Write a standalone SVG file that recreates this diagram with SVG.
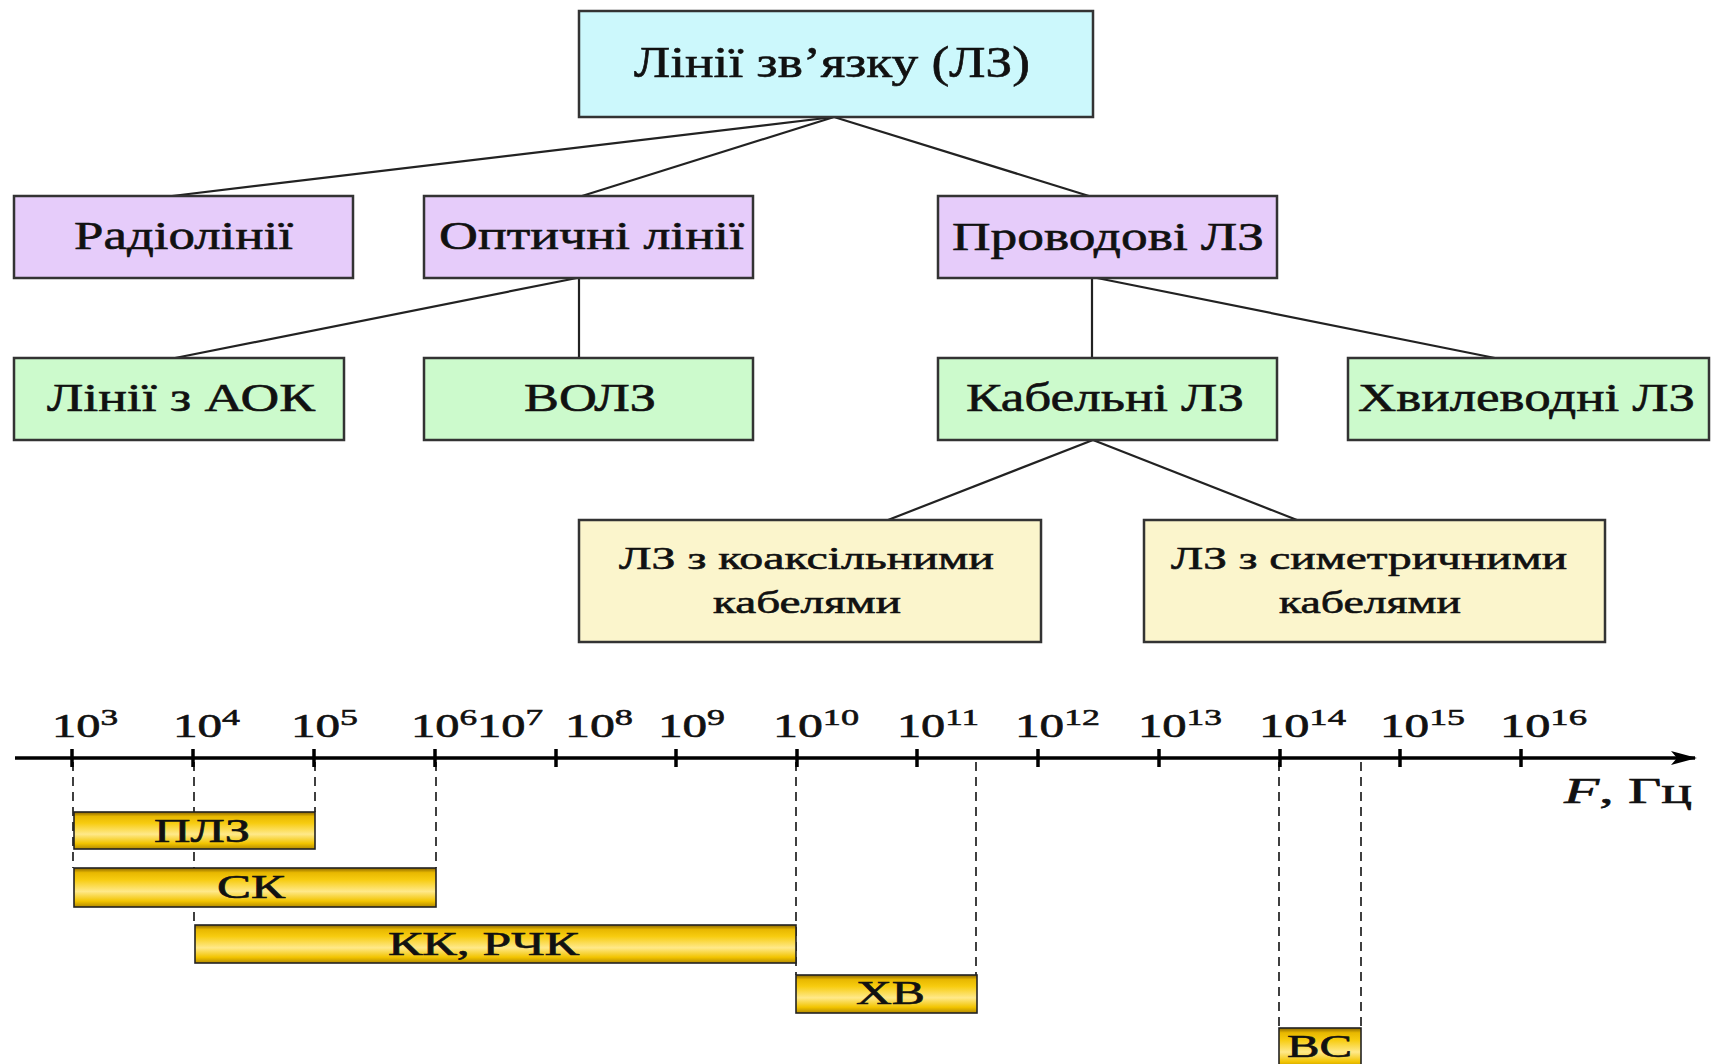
<svg xmlns="http://www.w3.org/2000/svg" width="1716" height="1064" viewBox="0 0 1716 1064">
<style>
.box{stroke:#333;stroke-width:2.5}
.t{font-family:"Liberation Serif","Times New Roman",serif;fill:#111;stroke:#111;stroke-width:0.6}
.n1{font-size:45px}
.n2{font-size:41px}
.n4{font-size:32px}
.ax{font-size:33px}
.sup{font-size:24px}
.conn{stroke:#222;stroke-width:2.2;fill:none}
.dash{stroke:#111;stroke-width:1.6;stroke-dasharray:9 6;fill:none}
.axis{stroke:#000;stroke-width:3.5;fill:none}
.tick{stroke:#000;stroke-width:3.5}
.bar{fill:url(#gold);stroke:#222;stroke-width:1.6}
</style>
<defs>
<linearGradient id="gold" x1="0" y1="0" x2="0" y2="1">
<stop offset="0" stop-color="#8a6500"/>
<stop offset="0.12" stop-color="#e8b800"/>
<stop offset="0.3" stop-color="#f7cc10"/>
<stop offset="0.6" stop-color="#ffe98a"/>
<stop offset="0.85" stop-color="#f2c400"/>
<stop offset="1" stop-color="#b38a00"/>
</linearGradient>
<marker id="arr" markerWidth="26" markerHeight="14" refX="24" refY="7" orient="auto" markerUnits="userSpaceOnUse">
<path d="M0,0 L26,7 L0,14 L6,7 Z" fill="#000"/>
</marker>
</defs>

<g id="connectors">
<line class="conn" x1="834" y1="117" x2="172" y2="196"/>
<line class="conn" x1="834" y1="117" x2="582" y2="196"/>
<line class="conn" x1="834" y1="117" x2="1089" y2="196"/>
<line class="conn" x1="577" y1="278" x2="175" y2="358"/>
<line class="conn" x1="579" y1="278" x2="579" y2="358"/>
<line class="conn" x1="1092" y1="278" x2="1092" y2="358"/>
<line class="conn" x1="1097" y1="278" x2="1495" y2="358"/>
<line class="conn" x1="1093" y1="440" x2="888" y2="520"/>
<line class="conn" x1="1093" y1="440" x2="1297" y2="520"/>
</g>

<g id="n-root">
<rect class="box" x="579" y="11" width="514" height="106" fill="#ccf8fc"/>
<text class="t n1" x="634" y="77" textLength="396" lengthAdjust="spacingAndGlyphs">Лінії зв’язку (ЛЗ)</text>
</g>

<g id="n-radio">
<rect class="box" x="14" y="196" width="339" height="82" fill="#e6ccfa"/>
<text class="t n2" x="74" y="249" textLength="219" lengthAdjust="spacingAndGlyphs">Радіолінії</text>
</g>
<g id="n-optic">
<rect class="box" x="424" y="196" width="329" height="82" fill="#e6ccfa"/>
<text class="t n2" x="439" y="249" textLength="305" lengthAdjust="spacingAndGlyphs">Оптичні лінії</text>
</g>
<g id="n-wire">
<rect class="box" x="938" y="196" width="339" height="82" fill="#e6ccfa"/>
<text class="t n2" x="952" y="250" textLength="312" lengthAdjust="spacingAndGlyphs">Проводові ЛЗ</text>
</g>

<g id="n-aok">
<rect class="box" x="14" y="358" width="330" height="82" fill="#ccfacc"/>
<text class="t n2" x="47" y="411" textLength="268" lengthAdjust="spacingAndGlyphs">Лінії з АОК</text>
</g>
<g id="n-volz">
<rect class="box" x="424" y="358" width="329" height="82" fill="#ccfacc"/>
<text class="t n2" x="524" y="411" textLength="132" lengthAdjust="spacingAndGlyphs">ВОЛЗ</text>
</g>
<g id="n-cable">
<rect class="box" x="938" y="358" width="339" height="82" fill="#ccfacc"/>
<text class="t n2" x="966" y="411" textLength="278" lengthAdjust="spacingAndGlyphs">Кабельні ЛЗ</text>
</g>
<g id="n-wave">
<rect class="box" x="1348" y="358" width="361" height="82" fill="#ccfacc"/>
<text class="t n2" x="1358" y="411" textLength="337" lengthAdjust="spacingAndGlyphs">Хвилеводні ЛЗ</text>
</g>

<g id="n-coax">
<rect class="box" x="579" y="520" width="462" height="122" fill="#fbf5cc"/>
<text class="t n4" x="619" y="569" textLength="375" lengthAdjust="spacingAndGlyphs">ЛЗ з коаксільними</text>
<text class="t n4" x="713" y="613" textLength="188" lengthAdjust="spacingAndGlyphs">кабелями</text>
</g>
<g id="n-sym">
<rect class="box" x="1144" y="520" width="461" height="122" fill="#fbf5cc"/>
<text class="t n4" x="1171" y="569" textLength="396" lengthAdjust="spacingAndGlyphs">ЛЗ з симетричними</text>
<text class="t n4" x="1279" y="613" textLength="182" lengthAdjust="spacingAndGlyphs">кабелями</text>
</g>

<g id="dashes">
<line class="dash" x1="73" y1="762" x2="73" y2="868"/>
<line class="dash" x1="194" y1="762" x2="194" y2="925"/>
<line class="dash" x1="315" y1="762" x2="315" y2="812"/>
<line class="dash" x1="436" y1="762" x2="436" y2="868"/>
<line class="dash" x1="796" y1="762" x2="796" y2="975"/>
<line class="dash" x1="976" y1="762" x2="976" y2="975"/>
<line class="dash" x1="1279" y1="762" x2="1279" y2="1028"/>
<line class="dash" x1="1361" y1="762" x2="1361" y2="1028"/>
</g>

<g id="axis">
<line class="axis" x1="15" y1="758" x2="1695" y2="758" marker-end="url(#arr)"/>
<g class="tick">
<line x1="72" y1="749" x2="72" y2="767"/>
<line x1="193" y1="749" x2="193" y2="767"/>
<line x1="314" y1="749" x2="314" y2="767"/>
<line x1="435" y1="749" x2="435" y2="767"/>
<line x1="556" y1="749" x2="556" y2="767"/>
<line x1="676" y1="749" x2="676" y2="767"/>
<line x1="797" y1="749" x2="797" y2="767"/>
<line x1="917" y1="749" x2="917" y2="767"/>
<line x1="1038" y1="749" x2="1038" y2="767"/>
<line x1="1159" y1="749" x2="1159" y2="767"/>
<line x1="1280" y1="749" x2="1280" y2="767"/>
<line x1="1400" y1="749" x2="1400" y2="767"/>
<line x1="1521" y1="749" x2="1521" y2="767"/>
</g>
<g class="t ax">
<text x="52" y="737" textLength="66" lengthAdjust="spacingAndGlyphs">10<tspan class="sup" dy="-12">3</tspan></text>
<text x="173" y="737" textLength="67" lengthAdjust="spacingAndGlyphs">10<tspan class="sup" dy="-12">4</tspan></text>
<text x="291" y="737" textLength="67" lengthAdjust="spacingAndGlyphs">10<tspan class="sup" dy="-12">5</tspan></text>
<text x="411" y="737" textLength="66" lengthAdjust="spacingAndGlyphs">10<tspan class="sup" dy="-12">6</tspan></text>
<text x="477" y="737" textLength="66" lengthAdjust="spacingAndGlyphs">10<tspan class="sup" dy="-12">7</tspan></text>
<text x="565" y="737" textLength="68" lengthAdjust="spacingAndGlyphs">10<tspan class="sup" dy="-12">8</tspan></text>
<text x="658" y="737" textLength="67" lengthAdjust="spacingAndGlyphs">10<tspan class="sup" dy="-12">9</tspan></text>
<text x="773" y="737" textLength="86" lengthAdjust="spacingAndGlyphs">10<tspan class="sup" dy="-12">10</tspan></text>
<text x="897" y="737" textLength="82" lengthAdjust="spacingAndGlyphs">10<tspan class="sup" dy="-12">11</tspan></text>
<text x="1015" y="737" textLength="85" lengthAdjust="spacingAndGlyphs">10<tspan class="sup" dy="-12">12</tspan></text>
<text x="1138" y="737" textLength="84" lengthAdjust="spacingAndGlyphs">10<tspan class="sup" dy="-12">13</tspan></text>
<text x="1259" y="737" textLength="87" lengthAdjust="spacingAndGlyphs">10<tspan class="sup" dy="-12">14</tspan></text>
<text x="1380" y="737" textLength="85" lengthAdjust="spacingAndGlyphs">10<tspan class="sup" dy="-12">15</tspan></text>
<text x="1500" y="737" textLength="87" lengthAdjust="spacingAndGlyphs">10<tspan class="sup" dy="-12">16</tspan></text>
</g>
<text class="t" x="1564" y="803" font-size="35" textLength="128" lengthAdjust="spacingAndGlyphs"><tspan font-style="italic">F</tspan>, Гц</text>
</g>

<g id="bars">
<g id="b-plz">
<rect class="bar" x="74" y="812" width="241" height="37"/>
<text class="t" x="154" y="842" font-size="33" textLength="96" lengthAdjust="spacingAndGlyphs">ПЛЗ</text>
</g>
<g id="b-sk">
<rect class="bar" x="74" y="868" width="362" height="39"/>
<text class="t" x="217" y="898" font-size="33" textLength="68" lengthAdjust="spacingAndGlyphs">СК</text>
</g>
<g id="b-kk">
<rect class="bar" x="195" y="925" width="601" height="38"/>
<text class="t" x="388" y="955" font-size="33" textLength="191" lengthAdjust="spacingAndGlyphs">КК, РЧК</text>
</g>
<g id="b-hv">
<rect class="bar" x="796" y="975" width="181" height="38"/>
<text class="t" x="856" y="1004" font-size="33" textLength="69" lengthAdjust="spacingAndGlyphs">ХВ</text>
</g>
<g id="b-vs">
<rect class="bar" x="1279" y="1028" width="82" height="40"/>
<text class="t" x="1287" y="1057" font-size="32" textLength="65" lengthAdjust="spacingAndGlyphs">ВС</text>
</g>
</g>
</svg>
